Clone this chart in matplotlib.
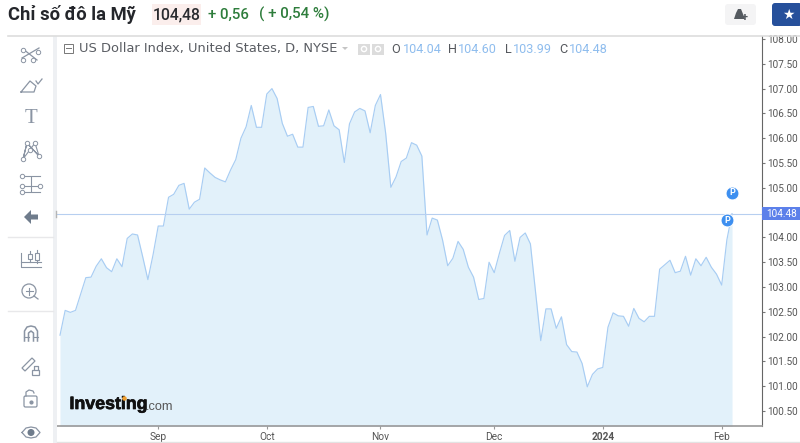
import pandas as pd
import matplotlib.pyplot as plt
import matplotlib.patheffects as pe
from matplotlib.patches import Circle, FancyBboxPatch, Polygon, Rectangle

plt.rcParams['font.family'] = ['Roboto', 'DejaVu Sans']

# --- Data ---
dates = pd.bdate_range('2023-08-07', '2024-02-05')
close = [102.03, 102.53, 102.49, 102.53, 102.86, 103.19, 103.20, 103.42, 103.57, 103.39,
         103.31, 103.57, 103.41, 103.98, 104.07, 104.05, 103.61, 103.15, 103.65, 104.23,
         104.23, 104.81, 104.87, 105.05, 105.09, 104.57, 104.71, 104.77, 105.40, 105.30,
         105.21, 105.16, 105.12, 105.36, 105.57, 106.00, 106.23, 106.66, 106.22, 106.22,
         106.89, 107.00, 106.80, 106.30, 106.04, 106.08, 105.82, 105.82, 106.62, 106.64,
         106.24, 106.25, 106.57, 106.25, 106.17, 105.51, 106.29, 106.53, 106.60, 106.55,
         106.11, 106.66, 106.88, 106.10, 105.01, 105.22, 105.53, 105.60, 105.91, 105.86,
         105.64, 104.05, 104.39, 104.35, 103.95, 103.43, 103.58, 103.92, 103.76, 103.40,
         103.20, 102.75, 102.77, 103.50, 103.29, 103.68, 104.04, 104.14, 103.52, 104.00,
         104.09, 103.87, 102.89, 101.92, 102.56, 102.56, 102.17, 102.40, 101.84, 101.70,
         101.69, 101.46, 100.99, 101.24, 101.35, 101.38, 102.19, 102.48, 102.42, 102.41,
         102.21, 102.57, 102.37, 102.30, 102.41, 102.41, 103.36, 103.45, 103.54, 103.29,
         103.32, 103.62, 103.24, 103.57, 103.43, 103.60, 103.40, 103.26, 103.04, 103.95,
         104.48]
last_price = 104.48
y_ticks = [100.5, 101, 101.5, 102, 102.5, 103, 103.5, 104, 105, 105.5, 106,
           106.5, 107, 107.5, 108]
x_tick_idx = [19, 40, 62, 84, 105, 128]
x_tick_labels = ['Sep', 'Oct', 'Nov', 'Dec', '2024', 'Feb']
event_idx = [130, 129]
event_val = [104.90, 104.35]

W, H = 800, 443
fig = plt.figure(figsize=(W / 100, H / 100), dpi=100, facecolor='white')

# --- Price chart ---
ax = fig.add_axes([57 / W, 1 - 426 / H, (762 - 57) / W, (426 - 36) / H])
x = list(range(len(close)))
ax.fill_between(x, close, 100, color='#e2f1fa', lw=0)
ax.plot(x, close, color='#a8cdf3', lw=0.85)
ax.axhline(last_price, color='#b7cff0', lw=0.8)
ax.set_xlim(-0.58, 135.8)
ax.set_ylim(100.2, 108.06)

ax.yaxis.tick_right()
ax.set_yticks(y_ticks)
ax.set_yticklabels([f'{t:.2f}' for t in y_ticks])
ax.tick_params(axis='y', length=2, width=0.8, color='#777777', labelcolor='#555555',
               labelsize=7.2, pad=2)
ax.set_xticks(x_tick_idx)
ax.set_xticklabels(x_tick_labels)
ax.tick_params(axis='x', length=2, width=0.8, color='#999999', labelcolor='#555555',
               labelsize=7.3, pad=2)
ax.get_xticklabels()[4].set_fontweight('bold')
for s in ['top', 'left']:
    ax.spines[s].set_visible(False)
ax.spines['right'].set_color('#666666')
ax.spines['bottom'].set_color('#999999')
ax.spines['bottom'].set_linewidth(1.2)

# event markers
ax.scatter(event_idx, event_val, s=85, color='#3d8ff0', edgecolor='white', lw=0.6,
           zorder=5, clip_on=False)
for i, v in zip(event_idx, event_val):
    ax.text(i, v, 'P', color='white', fontsize=6.5, fontweight='bold', ha='center',
            va='center', zorder=6)

# --- Page furniture, in pixel coordinates ---
ui = fig.add_axes([0, 0, 1, 1], facecolor='none')
ui.set_xlim(0, W)
ui.set_ylim(H, 0)
ui.axis('off')

ui.add_patch(Rectangle((53, 36), 4, 407, color='#eef0f3', lw=0))
ui.plot([8, 800], [35.5, 35.5], color='#dddddd', lw=1.2)
ui.plot([57, 800], [441.5, 441.5], color='#e3e3e3', lw=1)
ui.plot([55.5, 55.5], [211, 217], color='#b5b5b5', lw=1)

# price tag on the axis
ui.add_patch(Rectangle((762, 207), 38, 13, color='#5c80ea', lw=0))
ui.text(781.5, 213.7, f'{last_price:.2f}', color='white', fontsize=7.2, ha='center', va='center')

# header
ui.add_patch(Rectangle((152, 4), 49, 21, color='#fbeeec', lw=0))
ui.text(8, 14.5, 'Chỉ số đô la Mỹ', fontsize=13.2, fontweight='bold', color='#24262b', va='center')
ui.text(153, 14.5, '104,48', fontsize=11.3, fontweight='medium', color='#2a2c30', va='center')
ui.text(208, 14.5, '+ 0,56', fontsize=10.8, fontweight='medium', color='#2e7d3c', va='center')
ui.text(259, 14.5, '( + 0,54 %)', fontsize=10.9, fontweight='medium', color='#2e7d3c', va='center')

# bell and favourite buttons
ui.add_patch(FancyBboxPatch((725, 4), 31, 21, boxstyle='round,pad=0,rounding_size=3', color='#f4f4f5', lw=0))
ui.add_patch(Polygon([[734, 19], [736, 13], [738, 9], [741, 9], [743, 14], [745, 19]], color='#555a60', lw=0))
ui.text(745, 18, '+', fontsize=8, color='#555a60', ha='center', va='center', fontweight='bold')
ui.add_patch(FancyBboxPatch((772, 3), 30, 23, boxstyle='round,pad=0,rounding_size=3', color='#26509b', lw=0))
ui.text(788.5, 14.5, '★', fontsize=10, color='white', ha='center', va='center',
        family=['DejaVu Sans'])

# legend line
ui.add_patch(Rectangle((63.5, 44), 9, 8.5, fc='none', ec='#777777', lw=0.7))
ui.plot([65.5, 70.5], [48.2, 48.2], color='#777777', lw=0.7)
ui.text(79, 48.5, 'US Dollar Index, United States, D, NYSE', fontsize=9.4, color='#5a5d63', va='center',
        family=['DejaVu Sans'])
ui.add_patch(Polygon([[342, 47], [348, 47], [345, 50]], color='#c4c4c4', lw=0))
for x0 in [358, 372]:
    ui.add_patch(Rectangle((x0, 43.5), 12, 11, color='#dcdcdc', lw=0))
    ui.add_patch(Circle((x0 + 6, 49), 2.6, fc='none', ec='white', lw=1))
ohlc = [('O', 391, '104.04', 402.5), ('H', 448, '104.60', 458), ('L', 504.5, '103.99', 513), ('C', 559, '104.48', 569)]
for name, xa, val, xb in ohlc:
    ui.text(xa, 49, name, fontsize=9.1, color='#55585d', va='center')
    ui.text(xb, 49, val, fontsize=9.1, color='#8fbdee', va='center')

# left toolbar
ic = '#8a94a3'
for yy in [237, 311]:
    ui.plot([8, 53], [yy, yy], color='#e8e8ea', lw=1)
# crossing lines
ui.plot([22, 39], [58, 48], color=ic, lw=0.9)
ui.plot([23, 37], [49, 60], color=ic, lw=0.9)
ui.scatter([23, 33, 23, 38], [50, 60, 60, 52], s=10, fc='white', ec=ic, lw=0.7, zorder=3)
# brush
ui.plot([21, 34, 36, 30, 21], [92, 92, 86, 81, 92], color=ic, lw=0.9)
ui.plot([36, 38, 42], [81, 84, 79], color=ic, lw=0.9)
# T
ui.text(31, 118, 'T', fontsize=15, color=ic, ha='center', va='center',
        family=['Liberation Serif'])
# pattern
ui.plot([23, 27, 39, 35, 23, 27, 39], [159, 143, 156, 143, 159, 143, 156], color=ic, lw=0.8)
ui.scatter([23, 27, 39, 35, 30], [159, 143, 156, 143, 150], s=10, fc='white', ec=ic, lw=0.7, zorder=3)
# measure
for yy in [176, 186, 192]:
    ui.plot([22, 40], [yy, yy], color=ic, lw=0.8)
ui.plot([31, 31], [177, 191], color=ic, lw=0.8)
ui.scatter([22, 22, 22, 40], [176, 186, 192, 186], s=10, fc='white', ec=ic, lw=0.7, zorder=3)
# back arrow
ui.add_patch(Polygon([[24, 217], [31, 210], [31, 214.5], [38, 214.5], [38, 219.5], [31, 219.5], [31, 224]],
                     color='#6f7c8c', lw=0))
# candles
ui.plot([21, 21, 41], [253, 267, 267], color=ic, lw=0.8)
ui.plot([21, 41], [262, 262], color=ic, lw=0.8)
for xc, yt, yb in [(30, 254, 259), (37, 253, 260)]:
    ui.plot([xc, xc], [yt - 3, yb + 3], color=ic, lw=0.8)
    ui.add_patch(Rectangle((xc - 2, yt), 4, yb - yt, fc='white', ec=ic, lw=0.8, zorder=3))
# zoom
ui.add_patch(Circle((29, 291), 7, fc='none', ec=ic, lw=0.9))
ui.plot([25.5, 32.5], [291, 291], color=ic, lw=0.8)
ui.plot([29, 29], [287.5, 294.5], color=ic, lw=0.8)
ui.plot([34, 38], [296, 299], color=ic, lw=0.9)
# magnet
ui.plot([24.5, 24.5, 27, 31, 35, 37.5, 37.5], [341, 331, 327, 326, 327, 331, 341], color=ic, lw=1.1)
ui.plot([28.5, 28.5, 31, 33.5, 33.5], [341, 333, 331, 333, 341], color=ic, lw=1.1)
ui.plot([24, 29], [337, 337], color=ic, lw=0.8)
ui.plot([33, 38], [337, 337], color=ic, lw=0.8)
# pencil with lock
ui.add_patch(Polygon([[22, 368], [32, 358], [35, 361], [25, 371]], fc='none', ec=ic, lw=0.9))
ui.add_patch(Rectangle((32, 370), 7, 5, fc='white', ec=ic, lw=0.9, zorder=3))
ui.plot([33.5, 33.5, 37.5, 37.5], [370, 366, 366, 370], color=ic, lw=0.9)
# open lock
ui.add_patch(FancyBboxPatch((24, 396), 13, 11, boxstyle='round,pad=0,rounding_size=1.5', fc='none', ec=ic, lw=0.9))
ui.plot([26, 26, 29, 33, 34], [396, 392, 390, 391, 393], color=ic, lw=0.9)
ui.scatter([30.5], [402], s=4, color=ic)
# eye
ui.plot([22, 26, 31, 36, 40, 36, 31, 26, 22], [432.5, 428, 427, 428, 432.5, 437, 438, 437, 432.5], color=ic, lw=0.9)
ui.add_patch(Circle((31, 432.5), 3.5, color='#6f7c8c', lw=0))

# watermark
logo = ui.text(69.5, 404.5, 'Investing', fontsize=12.8, fontweight='bold', color='#111111', va='center',
               family=['Liberation Sans'])
logo.set_path_effects([pe.withStroke(linewidth=0.5, foreground='#111111')])
ui.text(146, 406.5, '.com', fontsize=9.2, color='#555555', va='center', family=['Liberation Sans'])
ui.scatter([123.5], [397.5], s=5, color='#f0a030', zorder=4)

fig.savefig('out.png', dpi=100)
